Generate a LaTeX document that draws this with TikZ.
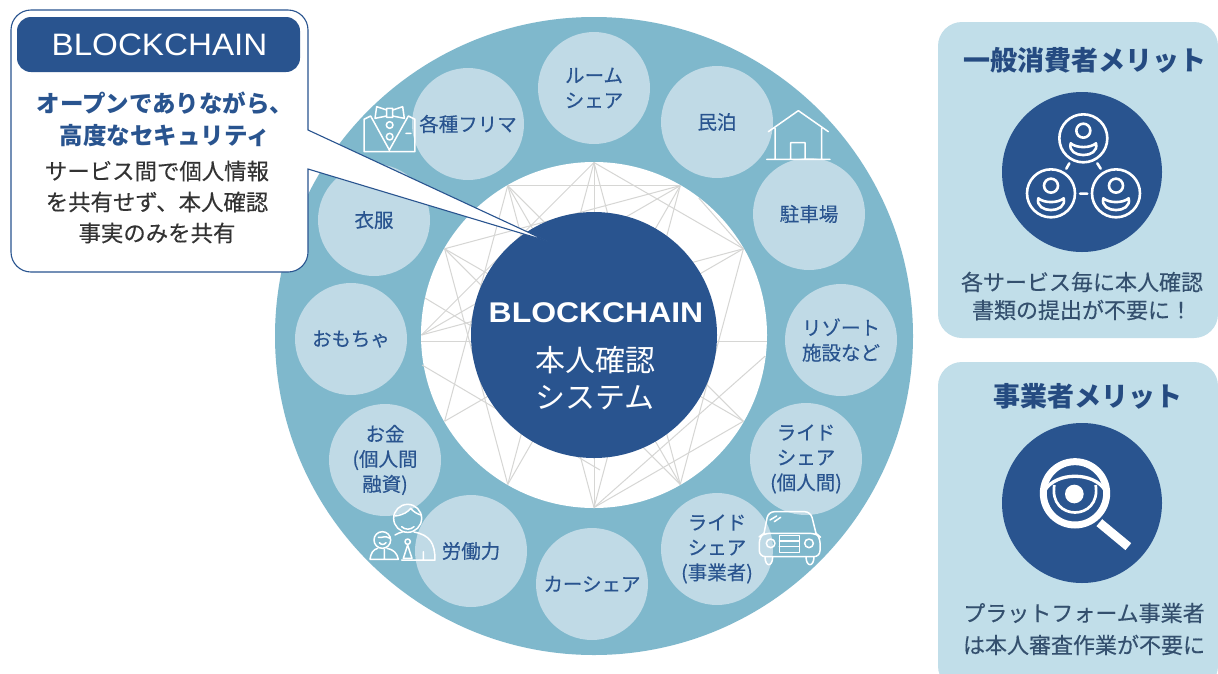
\documentclass[tikz,border=0pt]{standalone}
\usepackage{fontspec}
\setmainfont{Noto Sans CJK JP}
\newfontfamily\medf[FakeBold=0.3]{Noto Sans CJK JP}
\newfontfamily\latinfont[FakeStretch=1.07]{Liberation Sans}
\newfontfamily\latinwide[FakeStretch=1.12]{Liberation Sans}
\definecolor{ringc}{HTML}{7FB8CC}
\definecolor{palec}{HTML}{C0DAE6}
\definecolor{navy}{HTML}{29548F}
\definecolor{panelc}{HTML}{C1DEE9}
\definecolor{chordc}{HTML}{D6D6D4}
\definecolor{slatec}{HTML}{34506E}
\newcommand{\fs}[2]{\fontsize{#1}{#2}\selectfont}
\tikzset{
  smallc/.style={circle,fill=palec,minimum size=112pt,inner sep=0pt,align=center,text=navy,font=\medf\fs{19.5}{25}},
  lbl/.style={inner sep=0pt,align=center},
  icon/.style={draw=white,line width=1.5pt,line cap=round,line join=round},
  iconb/.style={draw=white,line width=2.6pt,line cap=round,line join=round},
  chord/.style={draw=chordc,line width=1pt},
  panel/.style={fill=panelc,rounded corners=24pt},
}
\begin{document}
\begin{tikzpicture}[x=1pt,y=-1pt]
\useasboundingbox (0,0) rectangle (1218,673);
\fill[white] (0,0) rectangle (1218,673);
\node[circle,fill=ringc,minimum size=638pt,inner sep=0pt] (ring) at (594,336) {};
\node[circle,fill=white,minimum size=346pt,inner sep=0pt] (hole) at (594,335) {};
% mesh
\foreach \i in {0,...,11}{\coordinate (v\i) at ({594+172.5*cos(30*\i)},{335-172.5*sin(30*\i)});}
\coordinate (h0) at (767,341);
\coordinate (h6) at (421,341);
\coordinate (e1) at ({594+172.5*cos(52.6)},{335-172.5*sin(52.6)});
\coordinate (e2) at ({594+172.5*cos(-7)},{335-172.5*sin(-7)});
\coordinate (e3) at (425,298);
\coordinate (e3b) at (594,400);
\coordinate (e4) at (422,365);
\coordinate (e4b) at (600,470);
\foreach \a/\b in {v4/v2,v3/v9,h6/h0,v6/v1,v7/v1,v1/v10,v1/v3,e1/v1,v9/v2,v9/e2,v9/v11,v9/v4,v3/v10,v3/v8,v3/v6,v11/v4,v10/v5,v10/v4,v5/v2,v5/v8,v5/v11,v4/v7,v8/v2,v6/v2,e3/e3b,e4/e4b}{
  \draw[chord] (\a) -- (\b);
}
\node[circle,fill=navy,minimum size=246pt,inner sep=0pt] (hub) at (594,335) {};
% small circles
\node[smallc] (c1) at (594,88) {ルーム\\シェア};
\node[smallc] (c2) at (717,122) {民泊};
\node[smallc] (c3) at (809,214) {駐車場};
\node[smallc] (c4) at (841,340) {リゾート\\施設など};
\node[smallc] (c5) at (806,459) {ライド\\シェア\\(個人間)};
\node[smallc] (c6) at (717,549) {ライド\\シェア\\(事業者)};
\node[smallc] (c7) at (592,584) {カーシェア};
\node[smallc] (c8) at (471,551) {労働力};
\node[smallc] (c9) at (385,460) {お金\\(個人間\\融資)};
\node[smallc] (c10) at (351,339) {おもちゃ};
\node[smallc] (c11) at (374,220) {衣服};
\node[smallc] (c12) at (468,124) {各種フリマ};
% hub text
\node[lbl,text=white,font=\latinwide\bfseries\fs{28.5}{30}] (hubt1) at (596,313) {BLOCKCHAIN};
\node[lbl,text=white,font=\fs{30}{37}] (hubt2) at (595,378) {本人確認\\システム};
% tuxedo
\begin{scope}[shift={(350,90)},x=0.3333pt,y=-0.3333pt]
\draw[icon] (62,78) -- (42,88) -- (42,185) -- (195,185) -- (195,88) -- (175,78) -- (118,180) -- (62,78);
\draw[icon] (110,60) -- (80,50) -- (75,85) -- (110,78) -- cycle (128,60) -- (158,50) -- (163,85) -- (128,78) -- cycle (110,55) rectangle (128,82);
\draw[icon] (119,105) circle (10) (119,140) circle (10) (168,130) -- (183,130);
\end{scope}
% house
\begin{scope}[shift={(750,100)},x=0.3333pt,y=-0.3333pt]
\draw[icon] (55,95) -- (145,32) -- (235,95) (75,85) -- (75,178) (215,85) -- (215,178) (50,178) -- (240,178) (122,178) -- (122,128) -- (165,128) -- (165,178);
\end{scope}
% car
\begin{scope}[shift={(740,490)},x=0.3333pt,y=-0.3333pt]
\draw[icon,rounded corners=6pt] (72,130) -- (85,65) -- (212,65) -- (228,130);
\draw[icon,rounded corners=6pt] (72,130) -- (58,140) -- (58,200) -- (240,200) -- (240,140) -- (228,130) -- cycle;
\draw[icon] (92,160) circle (13) (207,160) circle (13);
\draw[icon] (118,137) rectangle (178,187) (118,153) -- (178,153) (118,170) -- (178,170);
\draw[icon] (75,200) .. controls (75,232) and (98,232) .. (98,200) (198,200) .. controls (198,232) and (222,232) .. (222,200);
\draw[icon] (90,90) -- (110,78) (103,95) -- (122,82);
\end{scope}
% people
\begin{scope}[shift={(340,490)},x=0.3333pt,y=-0.3333pt]
\draw[icon] (203,85) circle (42);
\draw[icon] (165,78) .. controls (190,75) and (205,65) .. (212,55) .. controls (220,65) and (232,72) .. (243,75);
\draw[icon] (185,110) .. controls (195,120) and (212,120) .. (222,110);
\draw[icon] (165,135) .. controls (172,130) and (180,128) .. (187,126) (222,126) .. controls (270,135) and (285,160) .. (285,210) -- (185,210) (250,185) -- (250,210);
\draw[icon] (203,155) circle (8) (203,165) -- (190,205) -- (216,205) -- cycle;
\draw[icon] (127,150) circle (25) (115,142) .. controls (125,145) and (135,135) .. (150,145) (118,158) .. controls (124,165) and (132,165) .. (138,158);
\draw[icon] (90,208) .. controls (92,190) and (100,178) .. (113,175) (141,175) .. controls (160,178) and (172,190) .. (175,208) -- (90,208) (133,178) -- (133,205);
\end{scope}
% callout
\coordinate (tip) at (547,241);
\coordinate (tA) at (308,130);
\coordinate (tB) at (308,169);
\draw[fill=white,draw=navy,line width=1.1pt] (tB) [rounded corners=20pt] -- (308,272) -- (11,272) -- (11,10) -- (308,10) [sharp corners] -- (tA) -- (tip) -- cycle;
\node[fill=navy,rounded corners=14pt,minimum width=283pt,minimum height=55pt,inner sep=0pt,text=white,font=\latinfont\fs{31}{33}] (hdr) at (158.5,44.5) {\hspace{2pt}BLOCKCHAIN};
\node[lbl,text=navy,font=\bfseries\fs{23.5}{32}] (ct1) at (165,119) {オープンでありながら、\\高度なセキュリティ};
\node[lbl,text=black!80,font=\medf\fs{22.4}{31}] (ct2) at (157,202) {サービス間で個人情報\\を共有せず、本人確認\\事実のみを共有};
% panels
\fill[panel] (938,22) rectangle (1218,338);
\fill[panel] (938,362) -- (1218,362) -- (1218,690) -- (938,690) -- cycle;
\node[circle,fill=navy,minimum size=160pt,inner sep=0pt] (m1) at (1082,172) {};
\node[circle,fill=navy,minimum size=160pt,inner sep=0pt] (m2) at (1082,503) {};
\node[lbl,text=navy!90!black,font=\bfseries\fs{27}{30}] (p1t) at (1085,60) {一般消費者メリット};
\node[lbl,text=slatec,font=\medf\fs{22}{28}] (p1b) at (1082,296) {各サービス毎に本人確認\\書類の提出が不要に！};
\node[lbl,text=navy!90!black,font=\bfseries\fs{27}{30}] (p2t) at (1088,396) {事業者メリット};
\node[lbl,text=slatec,font=\medf\fs{22}{32}] (p2b) at (1084,629) {プラットフォーム事業者\\は本人審査作業が不要に};
% users icon
\begin{scope}[shift={(990,90)},x=0.3333pt,y=-0.3333pt]
\foreach \cx/\cy in {280/145,183/310,378/310}{
  \draw[iconb] (\cx,\cy) circle (72);
  \draw[iconb] (\cx,\cy-23) circle (21);
  \draw[iconb] (\cx-38,\cy+15) .. controls (\cx-20,\cy+30) and (\cx+20,\cy+30) .. (\cx+38,\cy+15) .. controls (\cx+50,\cy+62) and (\cx-50,\cy+62) .. (\cx-38,\cy+15) -- cycle;
}
\draw[iconb] (238,220) -- (229,236) (322,220) -- (332,236) (270,311) -- (292,311);
\end{scope}
% eye icon
\begin{scope}[shift={(990,430)},x=0.3333pt,y=-0.3333pt]
\draw[white,line width=7pt] (255,190) circle (95);
\draw[white,line width=9pt] (328,278) -- (415,350);
\draw[white,line width=3.3pt] (165,180) .. controls (200,125) and (310,125) .. (345,180);
\draw[white,line width=2.7pt] (193,165) .. controls (175,275) and (335,275) .. (317,165);
\fill[white] (253,192) circle (28);
\end{scope}
\end{tikzpicture}
\end{document}
